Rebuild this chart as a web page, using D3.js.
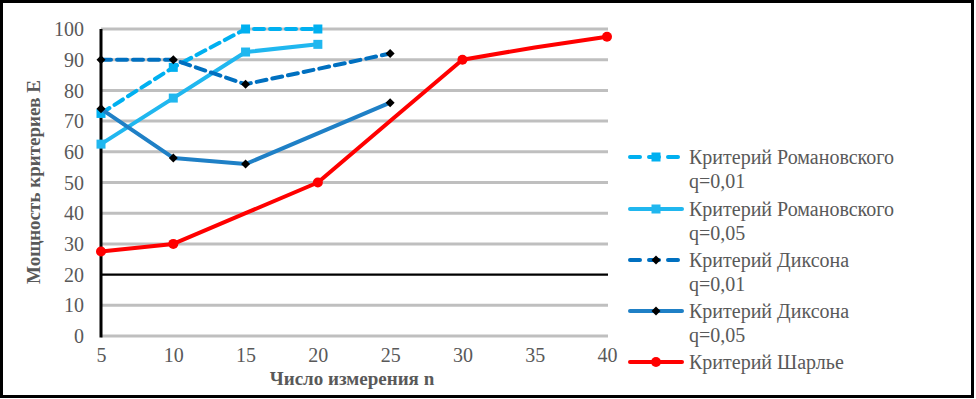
<!DOCTYPE html>
<html><head><meta charset="utf-8">
<script src="https://cdn.jsdelivr.net/npm/d3@7"></script>
</head>
<body style="margin:0">
<svg id="chart" width="976" height="399" style="display:block"></svg>
<script>
const xTicks = [5, 10, 15, 20, 25, 30, 35, 40];
const yTicks = [0, 10, 20, 30, 40, 50, 60, 70, 80, 90, 100];
const seriesNames = ["Критерий Романовского q=0,01", "Критерий Романовского q=0,05", "Критерий Диксона q=0,01", "Критерий Диксона q=0,05", "Критерий Шарлье"];
const legendLines = [["Критерий Романовского", "q=0,01"], ["Критерий Романовского", "q=0,05"], ["Критерий Диксона", "q=0,01"], ["Критерий Диксона", "q=0,05"], ["Критерий Шарлье"]];
const romanovsky001N = [5, 10, 15, 20];
const romanovsky001 = [72.5, 87.5, 100, 100];
const romanovsky005N = [5, 10, 15, 20];
const romanovsky005 = [62.5, 77.5, 92.5, 95];
const dixon001N = [5, 10, 15, 20, 25];
const dixon001 = [90, 90, 82, 87, 92];
const dixon005N = [5, 10, 15, 20, 25];
const dixon005 = [74, 58, 56, 66, 76];
const sharlierN = [5, 10, 15, 20, 25, 30, 35, 40];
const sharlier = [27.5, 30, 40, 50, 70, 90, 94, 97.5];
const xTitle = "Число измерения n";
const yTitle = "Мощность критериев E";

const FONT = "Liberation Serif";
const TXT = "#595959";

const styles = [
  {color:"#00b0f0", dash:"10,6", marker:"square", mcolor:"#00b0f0", hide:[]},
  {color:"#20b7ef", dash:null, marker:"square", mcolor:"#20b7ef", hide:[]},
  {color:"#0070c0", dash:"10,6", marker:"diamond", mcolor:"#000", hide:[20]},
  {color:"#1f80c6", dash:null, marker:"diamond", mcolor:"#000", hide:[20]},
  {color:"#ff0000", dash:null, marker:"circle", mcolor:"#ff0000", hide:[15,25,35]}
];
const seriesData = [
  [romanovsky001N, romanovsky001], [romanovsky005N, romanovsky005],
  [dixon001N, dixon001], [dixon005N, dixon005], [sharlierN, sharlier]
];

const svg = d3.select("#chart").attr("font-family", FONT);
svg.append("rect").attr("x",1.5).attr("y",1.5).attr("width",971).attr("height",395)
  .attr("fill","#fff").attr("stroke","#000").attr("stroke-width",3);

const x = d3.scaleLinear().domain([5,40]).range([101,607]);
const y = d3.scaleLinear().domain([0,100]).range([336,29]);
const gridX0 = 101, gridX1 = 608;

svg.append("g").selectAll("line").data(yTicks).join("line")
  .attr("x1",gridX0).attr("x2",gridX1)
  .attr("y1",d=>y(d)).attr("y2",d=>y(d))
  .attr("stroke",d=>d===20?"#000":"#bfbfbf").attr("stroke-width",d=>d===20?2.2:3);

svg.append("line").attr("x1",x(5)).attr("x2",x(5)).attr("y1",y(100)).attr("y2",y(0)+1.5)
  .attr("stroke","#000").attr("stroke-width",3);

function styleText(sel, size, bold){
  sel.attr("font-family",FONT).style("font-family",FONT).attr("font-size",size).style("font-size",size+"px").attr("fill",TXT);
  if(bold) sel.attr("font-weight","bold").style("font-weight","bold");
}

const yAxis = d3.axisLeft(y).tickValues(yTicks).tickSize(0).tickPadding(0);
const gy = svg.append("g").attr("transform","translate(84,0)").call(yAxis);
gy.attr("font-family",FONT).attr("font-size",20);
gy.select(".domain").remove();
styleText(gy.selectAll("text").attr("dy","0.33em"), 20);

const xAxis = d3.axisBottom(x).tickValues(xTicks).tickSize(0).tickPadding(0);
const gx = svg.append("g").attr("transform","translate(0,355)").call(xAxis);
gx.attr("font-family",FONT).attr("font-size",20);
gx.select(".domain").remove();
styleText(gx.selectAll("text").attr("dy","0.33em"), 20);

styleText(svg.append("text").attr("x",352).attr("y",379).attr("dy","0.33em").attr("text-anchor","middle").text(xTitle), 19, true);
styleText(svg.append("text").attr("transform","translate(34,182) rotate(-90)").attr("dy","0.33em").attr("text-anchor","middle").text(yTitle), 19, true);

function drawMarker(g, type, cx, cy, color, scale){
  const s = scale||1;
  if(type==="square"){
    g.append("rect").attr("x",cx-4.5*s).attr("y",cy-4.5*s).attr("width",9*s).attr("height",9*s).attr("fill",color);
  } else if(type==="diamond"){
    const r=4.5*s;
    g.append("path").attr("d",`M${cx},${cy-r}L${cx+r},${cy}L${cx},${cy+r}L${cx-r},${cy}Z`).attr("fill",color);
  } else {
    g.append("circle").attr("cx",cx).attr("cy",cy).attr("r",5*s).attr("fill",color);
  }
}

const line = d3.line().x(d=>x(d[0])).y(d=>y(d[1]));
seriesData.forEach((sd,i)=>{
  const st = styles[i];
  const pts = sd[0].map((n,j)=>[n, sd[1][j]]);
  const g = svg.append("g");
  g.append("path").datum(pts).attr("d",line).attr("fill","none")
    .attr("stroke",st.color).attr("stroke-width",4).attr("stroke-linejoin","round")
    .attr("stroke-linecap","round")
    .attr("stroke-dasharray",st.dash);
  pts.forEach(p=>{
    if(st.hide.indexOf(p[0])<0) drawMarker(g, st.marker, x(p[0]), y(p[1]), st.mcolor, 1);
  });
});

const legendY = [157, 209, 260, 311, 362];
legendLines.forEach((lines,i)=>{
  const st = styles[i];
  const g = svg.append("g");
  const ly = legendY[i];
  g.append("line").attr("x1",630).attr("x2",682).attr("y1",ly).attr("y2",ly)
    .attr("stroke",st.color).attr("stroke-width",4).attr("stroke-linecap","round")
    .attr("stroke-dasharray",st.dash?"10,9":null);
  drawMarker(g, st.marker, 656, ly, st.mcolor, 1);
  lines.forEach((t,k)=>{
    styleText(g.append("text").attr("x",689).attr("y",ly+24*k).attr("dy","0.33em").text(t), 20);
  });
});
</script>
</body></html>
